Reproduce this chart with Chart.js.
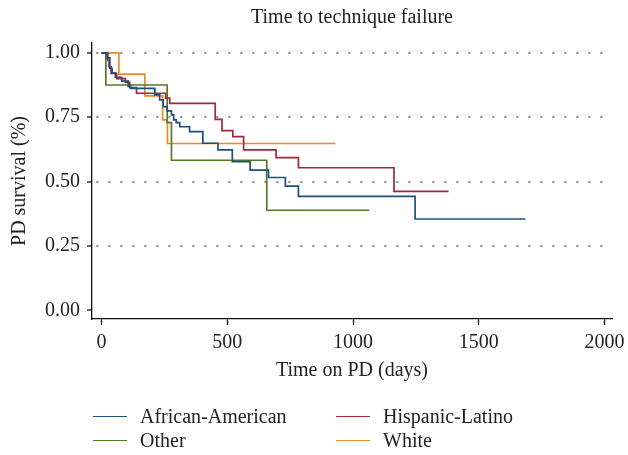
<!DOCTYPE html>
<html>
<head>
<meta charset="utf-8">
<script src="https://cdn.jsdelivr.net/npm/chart.js@4.4.0/dist/chart.umd.min.js"></script>
<style>
  body { margin: 0; background: #fff; }
  #wrap { position: relative; width: 628px; height: 455px; }
  #legend {
    position: absolute; left: 93px; top: 405px;
    display: grid; grid-template-columns: 243px 243px; row-gap: 1px;
    font-family: "Liberation Serif", serif; font-size: 20px; color: #222;
  }
  .item { display: flex; align-items: center; height: 23px; }
  .swatch { width: 34px; height: 1.6px; margin-right: 13px; }
</style>
</head>
<body>
<div id="wrap">
  <canvas id="km" width="628" height="455"></canvas>
  <div id="legend"></div>
</div>
<script>
const titleText = "Time to technique failure";
const groups = ["African-American", "Hispanic-Latino", "Other", "White"];
const colors = ["#1f4f7e", "#9c2a3a", "#557a2c", "#ee8a22"];

// Kaplan-Meier steps (day, survival after the step)
const aaDays = [0, 22, 33, 42, 55, 80, 106, 116, 212, 231, 245, 261, 278, 287, 297, 311, 350, 403, 463, 520, 591, 664, 731, 783, 1247, 1686];
const aaSurv = [1, 0.98, 0.94, 0.921, 0.905, 0.89, 0.87, 0.862, 0.837, 0.817, 0.791, 0.775, 0.759, 0.74, 0.729, 0.713, 0.694, 0.649, 0.623, 0.578, 0.545, 0.516, 0.483, 0.443, 0.355, 0.355];
const hlDays = [0, 25, 30, 38, 60, 95, 112, 139, 255, 271, 452, 479, 522, 565, 694, 783, 1163, 1380];
const hlSurv = [1, 0.97, 0.945, 0.92, 0.9, 0.885, 0.865, 0.843, 0.824, 0.804, 0.742, 0.698, 0.675, 0.623, 0.593, 0.554, 0.462, 0.462];
const otherDays = [0, 17, 261, 278, 657, 1065];
const otherSurv = [1, 0.875, 0.729, 0.583, 0.389, 0.389];
const whiteDays = [0, 69, 172, 243, 262, 930];
const whiteSurv = [1, 0.917, 0.833, 0.74, 0.648, 0.648];

const xTicks = [0, 500, 1000, 1500, 2000];
const yTicks = [0, 0.25, 0.5, 0.75, 1];

const series = [[aaDays, aaSurv], [hlDays, hlSurv], [otherDays, otherSurv], [whiteDays, whiteSurv]];
const font = { family: "'Liberation Serif', serif", size: 20 };

const titlePlugin = {
  id: "plotTitle",
  afterDraw(c) {
    const ctx = c.ctx;
    const a = c.chartArea;
    ctx.save();
    ctx.font = "20px 'Liberation Serif'";
    ctx.fillStyle = "#222";
    ctx.textAlign = "center";
    ctx.textBaseline = "middle";
    ctx.fillText(titleText, (a.left + a.right) / 2, 18);
    ctx.restore();
  }
};

new Chart(document.getElementById("km"), {
  type: "line",
  data: {
    datasets: series.map((s, i) => ({
      label: groups[i],
      data: s[0].map((d, j) => ({ x: d, y: s[1][j] })),
      borderColor: colors[i],
      borderWidth: 1.7,
      stepped: true,
      pointRadius: 0,
      fill: false
    }))
  },
  options: {
    responsive: false,
    animation: false,
    layout: { padding: { left: 0, top: 43, right: 16, bottom: 70 } },
    plugins: { legend: { display: false }, tooltip: { enabled: false } },
    scales: {
      x: {
        type: "linear",
        min: -38,
        max: 2030,
        afterBuildTicks: s => { s.ticks = xTicks.map(v => ({ value: v })); },
        afterFit: s => { s.height = 66; s.paddingRight = 0; s.paddingLeft = 0; },
        grid: { drawOnChartArea: false, tickLength: 6, tickColor: "#111", tickWidth: 1.3 },
        border: { color: "#111", width: 1.3 },
        ticks: { font: font, color: "#222", padding: 6, maxRotation: 0, callback: v => String(v) },
        title: { display: true, text: "Time on PD (days)", font: font, color: "#222", padding: { bottom: 2 } }
      },
      y: {
        min: -0.033,
        max: 1.038,
        afterBuildTicks: s => { s.ticks = yTicks.map(v => ({ value: v })); },
        afterFit: s => { s.width = 92; },
        grid: {
          color: ctx => (ctx.tick && ctx.tick.value === 0 ? "rgba(0,0,0,0)" : "#8a8a8a"),
          lineWidth: 2,
          tickLength: 5,
          tickColor: "#111",
          tickWidth: 1.3,
          tickBorderDash: []
        },
        border: { color: "#111", width: 1.3, dash: [2, 10], dashOffset: -4 },
        ticks: { font: font, color: "#222", padding: 7, callback: v => v.toFixed(2) },
        title: { display: true, text: "PD survival (%)", font: font, color: "#222", padding: { top: 8 } }
      }
    }
  },
  plugins: [titlePlugin]
});

const legend = document.getElementById("legend");
groups.forEach((g, i) => {
  const item = document.createElement("div");
  item.className = "item";
  item.innerHTML = `<span class="swatch" style="background:${colors[i]}"></span><span>${g}</span>`;
  legend.appendChild(item);
});
</script>
</body>
</html>
